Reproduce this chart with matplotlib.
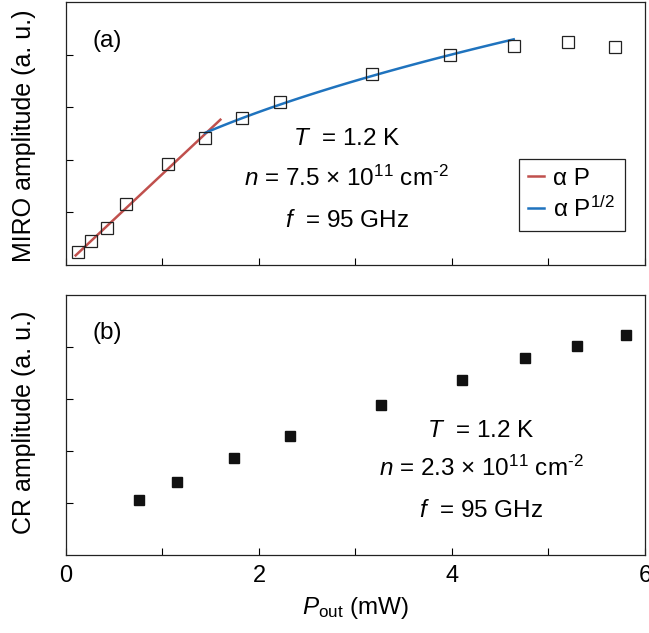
import numpy as np
import matplotlib
matplotlib.use('Agg')
import matplotlib.pyplot as plt
from matplotlib.lines import Line2D

plt.rcParams['font.family'] = ['Liberation Sans', 'DejaVu Sans']
plt.rcParams['mathtext.fontset'] = 'custom'
plt.rcParams['mathtext.rm'] = 'Liberation Sans'
plt.rcParams['mathtext.it'] = 'Liberation Sans:italic'
plt.rcParams['mathtext.sf'] = 'Liberation Sans'

# (a) MIRO amplitude vs output power
miro_p = [0.12, 0.26, 0.43, 0.62, 1.06, 1.44, 1.82, 2.22, 3.17, 3.98, 4.64, 5.20, 5.69]
miro_amp = [0.25, 0.46, 0.70, 1.16, 1.92, 2.42, 2.80, 3.10, 3.64, 4.00, 4.17, 4.23, 4.15]

# fits: linear (alpha P) and square-root (alpha P^1/2)
lin_range = [0.1, 1.6]
lin_coef = [1.72, 0.01]          # slope, offset
sqrt_range = [1.44, 4.64]
sqrt_coef = [1.866, 0.27]        # slope on sqrt(P), offset

# (b) CR amplitude vs output power
cr_p = [0.76, 1.15, 1.74, 2.32, 3.26, 4.10, 4.76, 5.30, 5.80]
cr_amp = [1.06, 1.40, 1.87, 2.29, 2.88, 3.37, 3.79, 4.02, 4.23]

red = '#c0504d'
blue = '#1f73be'
fs = 17.5

fig = plt.figure(figsize=(6.49, 6.33), dpi=100)
ax1 = fig.add_axes([0.1017, 0.5814, 0.892, 0.4155])
ax2 = fig.add_axes([0.1017, 0.1232, 0.892, 0.4107])

for ax in (ax1, ax2):
    ax.set_xlim(0, 6)
    ax.set_ylim(0, 5)
    ax.set_xticks(range(7))
    ax.set_yticks([1, 2, 3, 4])
    ax.set_yticklabels([])
    ax.tick_params(direction='in', length=5, width=0.8, labelsize=17, pad=7)
    for s in ax.spines.values():
        s.set_linewidth(0.9)
        s.set_color('#222222')

ax1.set_xticklabels([])
ax2.set_xticklabels(['0', '', '2', '', '4', '', '6'])

# top panel
xl = np.linspace(lin_range[0], lin_range[1], 50)
ax1.plot(xl, lin_coef[0] * xl + lin_coef[1], color=red, lw=1.8)
xs = np.linspace(sqrt_range[0], sqrt_range[1], 100)
ax1.plot(xs, sqrt_coef[0] * np.sqrt(xs) + sqrt_coef[1], color=blue, lw=1.8)
ax1.plot(miro_p, miro_amp, 's', ms=9, mfc='none', mec='#222222', mew=0.9)

ax1.text(0.045, 0.895, '(a)', transform=ax1.transAxes, fontsize=fs, va='top')
ax1.text(2.91, 2.29, '$T$  = 1.2 K', fontsize=fs, ha='center', va='baseline')
ax1.text(2.91, 1.50, '$n$ = 7.5 × 10$^{11}$ cm$^{\u20102}$', fontsize=fs, ha='center', va='baseline')
ax1.text(2.91, 0.72, '$f$  = 95 GHz', fontsize=fs, ha='center', va='baseline')
ax1.set_ylabel('MIRO amplitude (a. u.)', fontsize=18)
ax1.yaxis.set_label_coords(-0.051, 0.49)

handles = [Line2D([], [], color=red, lw=1.8), Line2D([], [], color=blue, lw=1.8)]
leg = ax1.legend(handles, ['α P', 'α P$^{1/2}$'], loc='lower right',
                 bbox_to_anchor=(0.965, 0.129), borderaxespad=0, fontsize=fs,
                 handlelength=0.65, handletextpad=0.4, borderpad=0.38,
                 labelspacing=0.28, fancybox=False, edgecolor='#222222', framealpha=1)
leg.get_frame().set_linewidth(0.9)

# bottom panel
ax2.plot(cr_p, cr_amp, 's', ms=7, color='#111111')
ax2.text(0.045, 0.895, '(b)', transform=ax2.transAxes, fontsize=fs, va='top')
ax2.text(4.30, 2.27, '$T$  = 1.2 K', fontsize=fs, ha='center', va='baseline')
ax2.text(4.30, 1.52, '$n$ = 2.3 × 10$^{11}$ cm$^{\u20102}$', fontsize=fs, ha='center', va='baseline')
ax2.text(4.30, 0.73, '$f$  = 95 GHz', fontsize=fs, ha='center', va='baseline')
ax2.set_ylabel('CR amplitude (a. u.)', fontsize=18)
ax2.yaxis.set_label_coords(-0.051, 0.51)
ax2.set_xlabel('$P_{\\mathrm{out}}$ (mW)', fontsize=fs, labelpad=6)

fig.savefig('out.png', dpi=100)
